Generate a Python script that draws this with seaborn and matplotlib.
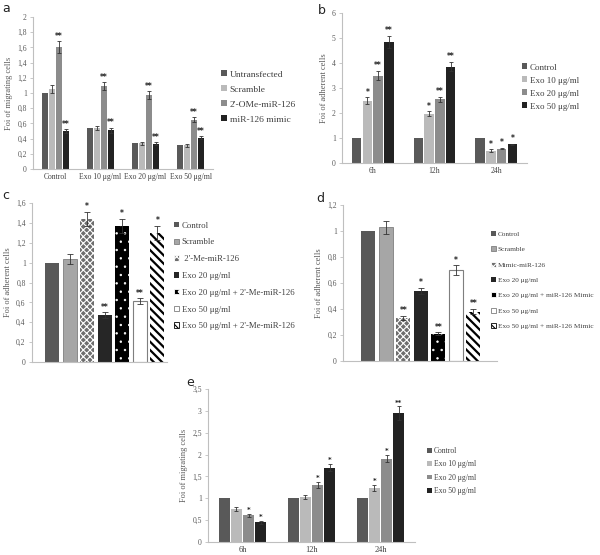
import matplotlib
matplotlib.use("Agg")
import matplotlib.pyplot as plt
import seaborn as sns
import pandas as pd
import numpy as np
from matplotlib.patches import Patch
from matplotlib.container import BarContainer
from matplotlib.ticker import FuncFormatter

# ---------------- data ----------------
# panel a
a_groups = ["Control", "Exo 10 μg/ml", "Exo 20 μg/ml", "Exo 50 μg/ml"]
a_series = ["Untransfected", "Scramble", "2'-OMe-miR-126", "miR-126 mimic"]
a_vals = [[1.00, 0.54, 0.34, 0.31],
          [1.05, 0.54, 0.34, 0.31],
          [1.60, 1.09, 0.97, 0.65],
          [0.50, 0.51, 0.33, 0.41]]
a_err = [[0.00, 0.00, 0.00, 0.00],
         [0.05, 0.03, 0.02, 0.02],
         [0.08, 0.05, 0.05, 0.03],
         [0.02, 0.03, 0.02, 0.02]]
a_star = [["", "", "", ""],
          ["", "", "", ""],
          ["**", "**", "**", "**"],
          ["**", "**", "**", "**"]]

# panel b
b_groups = ["6h", "12h", "24h"]
b_series = ["Control", "Exo 10 μg/ml", "Exo 20 μg/ml", "Exo 50 μg/ml"]
b_vals = [[1.00, 1.00, 1.00],
          [2.50, 1.97, 0.50],
          [3.50, 2.55, 0.58],
          [4.85, 3.85, 0.75]]
b_err = [[0.00, 0.00, 0.00],
         [0.13, 0.10, 0.05],
         [0.18, 0.10, 0.03],
         [0.25, 0.18, 0.03]]
b_star = [["", "", ""],
          ["*", "*", "*"],
          ["**", "**", "*"],
          ["**", "**", "*"]]

# panel c
c_cats = ["Control", "Scramble", " 2'-Me-miR-126", "Exo 20 μg/ml",
          "Exo 20 μg/ml + 2'-Me-miR-126", "Exo 50 μg/ml",
          "Exo 50 μg/ml + 2'-Me-miR-126"]
c_vals = [1.00, 1.04, 1.44, 0.47, 1.37, 0.61, 1.30]
c_err = [0.00, 0.05, 0.07, 0.03, 0.07, 0.03, 0.07]
c_star = ["", "", "*", "**", "*", "**", "*"]

# panel d
d_cats = ["Control", "Scramble", "Mimic-miR-126", "Exo 20 μg/ml",
          "Exo 20 μg/ml + miR-126 Mimic", "Exo 50 μg/ml",
          "Exo 50 μg/ml + miR-126 Mimic"]
d_vals = [1.00, 1.03, 0.33, 0.54, 0.21, 0.70, 0.38]
d_err = [0.00, 0.05, 0.015, 0.025, 0.01, 0.035, 0.02]
d_star = ["", "", "**", "*", "**", "*", "**"]

# panel e
e_groups = ["6h", "12h", "24h"]
e_series = ["Control", "Exo 10 μg/ml", "Exo 20 μg/ml", "Exo 50 μg/ml"]
e_vals = [[1.00, 1.00, 1.00],
          [0.76, 1.03, 1.23],
          [0.61, 1.30, 1.91],
          [0.45, 1.70, 2.95]]
e_err = [[0.00, 0.00, 0.00],
         [0.04, 0.04, 0.07],
         [0.03, 0.07, 0.08],
         [0.03, 0.08, 0.15]]
e_star = [["", "", ""],
          ["", "", "*"],
          ["*", "*", "*"],
          ["*", "*", "**"]]

# ---------------- style ----------------
sns.set_theme(style="white")
plt.rcParams["font.family"] = ["Liberation Serif", "DejaVu Serif"]
plt.rcParams["hatch.linewidth"] = 0.8

GRAYS = ["#595959", "#bababa", "#8c8c8c", "#222222"]
SPINE = "#bfbfbf"
TXT = "#595959"

fig = plt.figure(figsize=(6.0, 5.55), dpi=100)
W, H = 600.0, 555.0


def add_ax(left, top, right, bottom):
    return fig.add_axes([left / W, 1 - bottom / H, (right - left) / W, (bottom - top) / H])


def comma(x, pos):
    s = ("%g" % round(x, 2))
    return s.replace(".", ",")


def bar_containers(ax):
    return [c for c in ax.containers if isinstance(c, BarContainer)]


def set_hlw(p, lw):
    if hasattr(p, "set_hatch_linewidth"):
        p.set_hatch_linewidth(lw)
    else:
        p._hatch_linewidth = lw


def style_ax(ax, ylim, step, ylabel, xfs=5.5):
    ax.set_ylim(*ylim)
    ax.set_yticks(np.arange(ylim[0], ylim[1] + step / 2, step))
    ax.yaxis.set_major_formatter(FuncFormatter(comma))
    for s in ["top", "right"]:
        ax.spines[s].set_visible(False)
    for s in ["left", "bottom"]:
        ax.spines[s].set_color(SPINE)
        ax.spines[s].set_linewidth(0.8)
    ax.tick_params(axis="y", length=2.5, width=0.6, color=SPINE, labelsize=5.5,
                   labelcolor=TXT, pad=2, left=True)
    ax.tick_params(axis="x", length=0, labelsize=xfs, labelcolor="#404040", pad=3)
    ax.set_ylabel(ylabel, fontsize=6, color=TXT, labelpad=3)
    ax.set_xlabel("")


def grouped(ax, groups, series, vals, errs, stars, width, gap, ylim, step, ylabel,
            star_fs=5.5, xfs=5.5):
    rows = []
    for si, s in enumerate(series):
        for gi, g in enumerate(groups):
            rows.append({"group": g, "series": s, "value": vals[si][gi]})
    df = pd.DataFrame(rows)
    sns.barplot(data=df, x="group", y="value", hue="series", order=groups,
                hue_order=series, palette=GRAYS, width=width, gap=gap,
                linewidth=0, ax=ax, legend=False)
    rng = ylim[1] - ylim[0]
    for si, cont in enumerate(bar_containers(ax)):
        for gi, bar in enumerate(cont):
            xc = bar.get_x() + bar.get_width() / 2
            h = bar.get_height()
            e = errs[si][gi]
            if e > 0:
                ax.errorbar(xc, h, yerr=e, fmt="none", ecolor="#333333",
                            elinewidth=0.6, capsize=1.6, capthick=0.6, zorder=5)
            if stars[si][gi]:
                ax.text(xc, h + e + rng * 0.005, stars[si][gi], ha="center",
                        va="bottom", fontsize=star_fs, color="#222222",
                        fontweight="bold", family="DejaVu Sans")
    ax.set_xlim(-0.5, len(groups) - 0.5)
    style_ax(ax, ylim, step, ylabel, xfs)


# ---- panel a ----
axa = add_ax(33, 17, 213, 169)
grouped(axa, a_groups, a_series, a_vals, a_err, a_star, 0.6, 0.12, (0, 2), 0.2,
        "Foi of migrating cells")
ha = [Patch(facecolor=c, edgecolor="none") for c in GRAYS]
fig.legend(ha, a_series, loc="center left", bbox_to_anchor=(221 / W, 1 - 97 / H),
           frameon=False, fontsize=6.8, handlelength=0.6, handleheight=0.6,
           handletextpad=0.3, labelspacing=0.7, borderpad=0, borderaxespad=0,
           labelcolor="#404040")

# ---- panel b ----
axb = add_ax(342, 13, 527, 163)
grouped(axb, b_groups, b_series, b_vals, b_err, b_star, 0.7, 0.12, (0, 6), 1,
        "Foi of adherent cells")
fig.legend(ha, b_series, loc="center left", bbox_to_anchor=(522 / W, 1 - 87 / H),
           frameon=False, fontsize=6.5, handlelength=0.6, handleheight=0.6,
           handletextpad=0.3, labelspacing=0.55, borderpad=0, borderaxespad=0,
           labelcolor="#404040")

# ---- panels c and d (single bars with patterns) ----
STY = [
    dict(facecolor="#595959", edgecolor="#595959", hatch=None, lw=0, hlw=0.8),
    dict(facecolor="#a6a6a6", edgecolor="#7f7f7f", hatch=None, lw=0.6, hlw=0.8),
    dict(facecolor="#6e6e6e", edgecolor="#ffffff", hatch="xxxxx", lw=0, hlw=0.8),
    dict(facecolor="#262626", edgecolor="#262626", hatch=None, lw=0, hlw=0.8),
    dict(facecolor="#000000", edgecolor="#ffffff", hatch="..", lw=0, hlw=0.5),
    dict(facecolor="#ffffff", edgecolor="#7f7f7f", hatch=None, lw=0.8, hlw=0.8),
    dict(facecolor="#ffffff", edgecolor="#000000", hatch="\\\\\\\\", lw=0, hlw=1.6),
]


def single(ax, cats, vals, errs, stars, ylim, step, ylabel, xlim):
    df = pd.DataFrame({"cat": cats, "value": vals})
    sns.barplot(data=df, x="cat", y="value", hue="cat", order=cats, hue_order=cats,
                palette=[s["facecolor"] for s in STY], width=0.8, linewidth=0,
                ax=ax, legend=False)
    rng = ylim[1] - ylim[0]
    for i, cont in enumerate(bar_containers(ax)):
        bar = cont[0]
        st = STY[i]
        bar.set_facecolor(st["facecolor"])
        bar.set_edgecolor(st["edgecolor"])
        bar.set_linewidth(st["lw"])
        if st["hatch"]:
            bar.set_hatch(st["hatch"])
            set_hlw(bar, st["hlw"])
        xc = bar.get_x() + bar.get_width() / 2
        h = bar.get_height()
        e = errs[i]
        if e > 0:
            ax.errorbar(xc, h, yerr=e, fmt="none", ecolor="#333333",
                        elinewidth=0.6, capsize=2.2, capthick=0.6, zorder=5)
        if stars[i]:
            ax.text(xc, h + e + rng * 0.005, stars[i], ha="center", va="bottom",
                    fontsize=5.5, color="#222222", fontweight="bold",
                    family="DejaVu Sans")
    ax.set_xlim(*xlim)
    style_ax(ax, ylim, step, ylabel)
    ax.set_xticks([])
    handles = []
    for s in STY:
        p = Patch(facecolor=s["facecolor"],
                  edgecolor=(s["edgecolor"] if (s["hatch"] or s["lw"]) else "none"),
                  hatch=s["hatch"], linewidth=0.6)
        if s["hatch"]:
            set_hlw(p, min(s["hlw"], 0.8))
        handles.append(p)
    return handles


axc = add_ax(32, 203, 167, 362)
hc = single(axc, c_cats, c_vals, c_err, c_star, (0, 1.6), 0.2,
            "Foi of adherent cells", (-1.15, 6.55))
fig.legend(hc, c_cats, loc="center left", bbox_to_anchor=(174 / W, 1 - 276 / H),
           frameon=False, fontsize=6.3, handlelength=0.6, handleheight=0.6,
           handletextpad=0.3, labelspacing=1.0, borderpad=0, borderaxespad=0,
           labelcolor="#404040")

axd = add_ax(343, 205, 497, 361)
hd = single(axd, d_cats, d_vals, d_err, d_star, (0, 1.2), 0.2,
            "Foi of adherent cells", (-1.45, 7.35))
fig.legend(hd, d_cats, loc="center left", bbox_to_anchor=(491 / W, 1 - 280 / H),
           frameon=False, fontsize=5.2, handlelength=0.65, handleheight=0.65,
           handletextpad=0.25, labelspacing=1.3, borderpad=0, borderaxespad=0,
           labelcolor="#404040")

# ---- panel e ----
axe = add_ax(208, 389, 415, 542)
grouped(axe, e_groups, e_series, e_vals, e_err, e_star, 0.7, 0.15, (0, 3.5), 0.5,
        "Foi of migrating cells", star_fs=5, xfs=6)
fig.legend(ha, e_series, loc="center left", bbox_to_anchor=(427 / W, 1 - 471 / H),
           frameon=False, fontsize=5.5, handlelength=0.6, handleheight=0.6,
           handletextpad=0.3, labelspacing=0.7, borderpad=0, borderaxespad=0,
           labelcolor="#404040")

# ---- panel letters ----
for lab, x, y in [("a", 2, 8), ("b", 318, 10), ("c", 2, 196), ("d", 316, 198),
                  ("e", 186, 382)]:
    fig.text(x / W, 1 - y / H, lab, fontsize=9, color="#222222", va="center",
             ha="left", family="DejaVu Sans")

fig.savefig("out.png", dpi=100)
